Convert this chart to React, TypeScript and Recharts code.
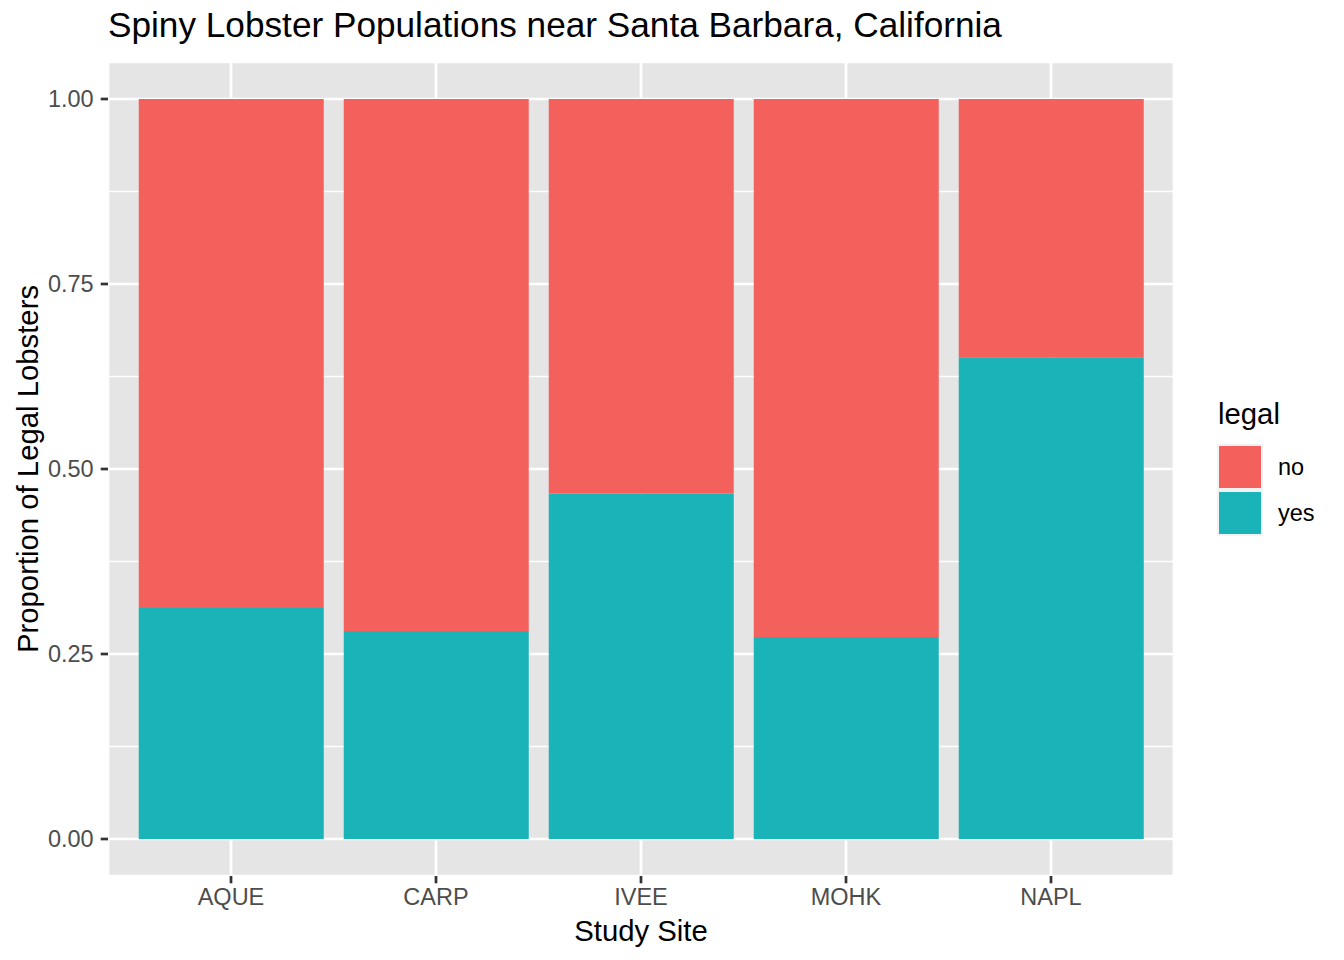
import React from 'react';
import { BarChart, Bar, XAxis, YAxis, CartesianGrid } from 'recharts';

const sites = ['AQUE', 'CARP', 'IVEE', 'MOHK', 'NAPL'];
const legalYes = [0.312, 0.281, 0.467, 0.273, 0.651];
const legalNo = [0.688, 0.719, 0.533, 0.727, 0.349];
const yTicks = [0, 0.25, 0.5, 0.75, 1];
const yMinorTicks = [0.125, 0.375, 0.625, 0.875];
const legendItems = [
  { label: 'no', color: '#F4605C' },
  { label: 'yes', color: '#19B3B8' },
];

const data = sites.map((site, i) => ({ site, yes: legalYes[i], no: legalNo[i] }));

const FONT = '"Liberation Sans", Arial, Helvetica, sans-serif';
const tickStyle = { fill: '#4D4D4D', fontSize: 23.5, fontFamily: FONT };

const App: React.FC = () => {
  return (
    <div style={{ position: 'absolute', left: 0, top: 0, width: 1344, height: 960, background: '#fff' }}>
      <BarChart
        width={1344}
        height={960}
        data={data}
        margin={{ top: 62, right: 170, bottom: 0, left: 0 }}
        barCategoryGap="5%"
      >
        <CartesianGrid yAxisId="minor" vertical={false} fill="#E5E5E5" stroke="#FFFFFF" strokeWidth={1.4} />
        <CartesianGrid stroke="#FFFFFF" strokeWidth={2.7} />
        <XAxis
          dataKey="site"
          height={84}
          padding={{ left: 20.5, right: 20.5 }}
          axisLine={false}
          tickLine={{ stroke: '#333333', strokeWidth: 2.7 }}
          tickSize={7.3}
          tickMargin={5}
          tick={tickStyle}
          label={{
            content: ({ viewBox }: any) => (
              <text
                x={viewBox.x + viewBox.width / 2}
                y={941}
                textAnchor="middle"
                fontSize={29.3}
                fontFamily={FONT}
                fill="#000"
              >
                Study Site
              </text>
            ),
          }}
        />
        <YAxis
          type="number"
          width={108}
          domain={[-0.05, 1.05]}
          ticks={yTicks}
          interval={0}
          allowDataOverflow
          axisLine={false}
          tickLine={{ stroke: '#333333', strokeWidth: 2.7 }}
          tickSize={7.3}
          tickMargin={7}
          tick={tickStyle}
          tickFormatter={(v: number) => v.toFixed(2)}
          label={{
            content: ({ viewBox }: any) => {
              const cy = viewBox.y + viewBox.height / 2;
              return (
                <text
                  x={38}
                  y={cy}
                  transform={`rotate(-90, 38, ${cy})`}
                  textAnchor="middle"
                  fontSize={29.3}
                  fontFamily={FONT}
                  fill="#000"
                >
                  Proportion of Legal Lobsters
                </text>
              );
            },
          }}
        />
        <YAxis yAxisId="minor" hide type="number" domain={[-0.05, 1.05]} ticks={yMinorTicks} interval={0} allowDataOverflow />
        <Bar dataKey="yes" stackId="a" fill="#19B3B8" isAnimationActive={false} />
        <Bar dataKey="no" stackId="a" fill="#F4605C" isAnimationActive={false} />
      </BarChart>
      <svg
        width={1344}
        height={960}
        style={{ position: 'absolute', left: 0, top: 0, pointerEvents: 'none' }}
      >
        <text x={108} y={37} fontSize={35.2} fontFamily={FONT} fill="#000">
          Spiny Lobster Populations near Santa Barbara, California
        </text>
        <text x={1218} y={424} fontSize={29.3} fontFamily={FONT} fill="#000">
          legal
        </text>
        {legendItems.map((item, i) => (
          <g key={item.label}>
            <rect x={1217} y={444 + i * 46} width={46} height={46} fill="#F2F2F2" />
            <rect x={1219} y={446 + i * 46} width={42} height={42} fill={item.color} />
            <text x={1278} y={475 + i * 46} fontSize={23.5} fontFamily={FONT} fill="#000">
              {item.label}
            </text>
          </g>
        ))}
      </svg>
    </div>
  );
};

export default App;
